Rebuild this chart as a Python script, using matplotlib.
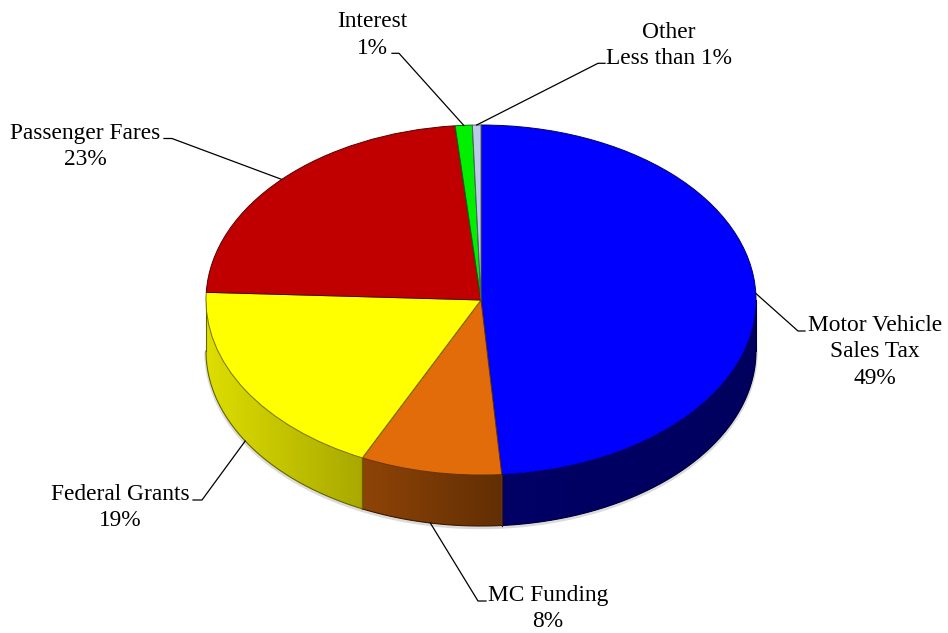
import numpy as np
import matplotlib
matplotlib.use('Agg')
import matplotlib.pyplot as plt
from matplotlib.patches import Polygon
from matplotlib.colors import to_rgb

# ---------------- data ----------------
categories = ['Motor Vehicle\nSales Tax', 'MC Funding', 'Federal Grants',
              'Passenger Fares', 'Interest', 'Other']
shares = [48.8, 8.3, 18.6, 22.8, 1.0, 0.5]
share_labels = ['49%', '8%', '19%', '23%', '1%', 'Less than 1%']

# ---------------- style ----------------
top_colors = ['#0000FF', '#E36C0A', '#FFFF00', '#C00000', '#00F000', '#B8CCE4']
side_shade = [(0.40, 0.37), (0.63, 0.43), (0.87, 0.66),
              (0.60, 0.45), (0.60, 0.45), (0.60, 0.45)]

W, H = 948, 633
CX, CY, RX, RY, DEPTH = 481, 300, 275, 175, 51

# label layout in pixel coords: text centre x, first baseline y, elbow, stub end
label_x = [875, 548, 120, 85, 372, 669]
label_y = [331, 601, 500, 139, 27.3, 37.7]
elbow = [(798, 331), (478, 601), (202, 500), (172, 138.5), (399, 53.3), (598, 63.3)]
stub = [(805, 331), (486, 601), (193, 500), (164, 138.5), (392, 53.3), (605, 63.3)]
LINE_STEP = 26.4
FONT = ['Liberation Serif', 'Times New Roman', 'DejaVu Serif', 'serif']
FSIZE = 16.8


def px(x):
    return (x - CX) / RX


def py(y):
    return (CY - y) / RY


def darken(c, f):
    return tuple(np.clip(np.array(to_rgb(c)) * f, 0, 1))


d = DEPTH / RY

fig = plt.figure(figsize=(W / 100, H / 100), dpi=100)
ax = fig.add_axes([0, 0, 1, 1])

# ---- top face ----
wedges, _ = ax.pie(shares, colors=top_colors, startangle=90, counterclock=False,
                   radius=1, center=(0, 0), wedgeprops=dict(linewidth=0.7))
for w, c in zip(wedges, top_colors):
    w.set_edgecolor(darken(c, 0.45))
    w.set_zorder(5)

total = float(sum(shares))
cum = np.concatenate([[0], np.cumsum(shares)]) / total * 360.0

# soft shadow beneath the rim
ts = np.radians(np.linspace(-180, 0, 200))
ax.plot(np.cos(ts), np.sin(ts) - d - 1.5 / RY, color='#999999', lw=2.5, alpha=0.35,
        zorder=1, solid_capstyle='round')

# ---- side walls (gradient images clipped to the wall shape) ----
for i, c in enumerate(top_colors):
    t_start = 90 - cum[i]
    t_end = 90 - cum[i + 1]
    for k in (-1, 0, 1):
        lo = max(t_end, -180 + 360 * k)
        hi = min(t_start, 0 + 360 * k)
        if hi <= lo:
            continue
        n = max(int((hi - lo) / 0.5) + 2, 4)
        tt = np.radians(np.linspace(hi, lo, n))
        x = np.cos(tt)
        y = np.sin(tt)
        verts = np.vstack([np.column_stack([x, y]),
                           np.column_stack([x[::-1], y[::-1] - d])])
        base = np.array(to_rgb(c))
        f0, f1 = side_shade[i]
        poly = Polygon(verts, closed=True, fc=tuple(base * (f0 + f1) / 2), ec='none',
                       zorder=2)
        ax.add_patch(poly)
        xmin, xmax = x.min(), x.max()
        fr = np.linspace(f0, f1, 256)
        grad = np.clip(base[None, None, :] * fr[None, :, None], 0, 1)
        im = ax.imshow(grad, extent=(xmin, xmax, y.min() - d - 0.01, y.max() + 0.01),
                       aspect='auto', zorder=2.5, interpolation='bilinear')
        im.set_clip_path(poly)
        edge = darken(c, min(f0, f1) * 0.6)
        ax.plot(x, y - d, color=edge, lw=0.8, zorder=3)
        for xe, ye in ((x[0], y[0]), (x[-1], y[-1])):
            ax.plot([xe, xe], [ye, ye - d], color=edge, lw=0.8, zorder=3)

# ---- leader lines and labels ----
for i in range(len(categories)):
    mid = np.radians(90 - (cum[i] + cum[i + 1]) / 2)
    ax_x, ax_y = np.cos(mid), np.sin(mid)
    if ax_y < 0:
        ax_y -= d
    ex, ey = elbow[i]
    sx, sy = stub[i]
    ax.plot([ax_x, px(ex), px(sx)], [ax_y, py(ey), py(sy)], color='black', lw=0.9,
            zorder=6)
    lines = categories[i].split('\n') + [share_labels[i]]
    for k, line in enumerate(lines):
        ax.text(px(label_x[i]), py(label_y[i] + k * LINE_STEP), line, ha='center',
                va='baseline', fontsize=FSIZE, family=FONT, color='black', zorder=7)

ax.set_aspect('auto')
ax.set_xlim(-CX / RX, (W - CX) / RX)
ax.set_ylim((CY - H) / RY, CY / RY)
ax.axis('off')

fig.savefig('out.png', dpi=100, facecolor='white')
